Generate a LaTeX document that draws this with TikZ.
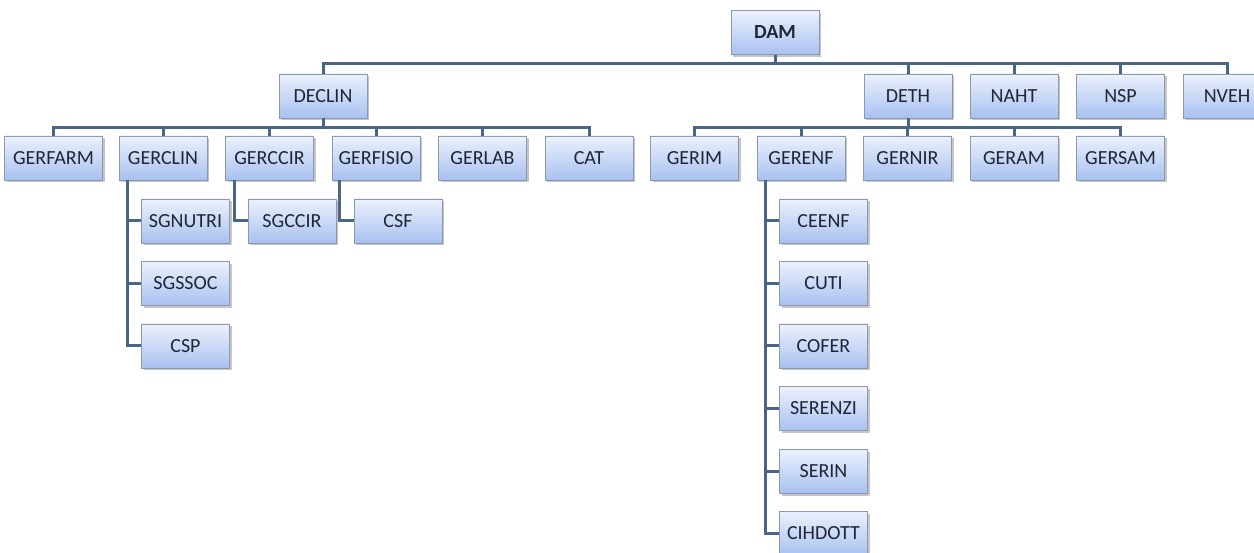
\documentclass[tikz,border=0pt]{standalone}
\usepackage{fontspec}
\setmainfont{Carlito}
\usetikzlibrary{shadows}
\definecolor{cajaarriba}{RGB}{236,241,252}
\definecolor{cajaabajo}{RGB}{168,193,241}
\definecolor{borde}{RGB}{140,152,172}
\definecolor{linea}{RGB}{74,101,134}
\definecolor{texto}{RGB}{30,38,56}
\tikzset{
  caja/.style={rectangle, draw=borde, line width=0.8pt, top color=cajaarriba, bottom color=cajaabajo,
    minimum width=88pt, minimum height=44pt, inner sep=0pt, text=texto,
    font=\fontsize{20}{23}\selectfont,
    drop shadow={shadow xshift=2pt, shadow yshift=-2.5pt, opacity=0.45}},
  enlace/.style={draw=linea, line width=3pt}
}
\begin{document}
\begin{tikzpicture}[x=1pt,y=-1pt]
        \useasboundingbox (0,0) rectangle (1254,553);
        % Direccion
        \node[caja] (dam) at (775,32.5) {\textbf{DAM}};
        % Primer nivel
        \node[caja] (declin) at (323,96) {DECLIN};
        \node[caja] (deth) at (908,96) {DETH};
        \node[caja] (naht) at (1014,96) {NAHT};
        \node[caja] (nsp) at (1120.5,96) {NSP};
        \node[caja] (nveh) at (1227,96) {NVEH};
        % Segundo nivel (DECLIN)
        \node[caja, minimum width=98pt] (gerfarm) at (53.5,158) {GERFARM};
        \node[caja] (gerclin) at (163,158) {GERCLIN};
        \node[caja] (gerccir) at (269.5,158) {GERCCIR};
        \node[caja] (gerfisio) at (376,158) {GERFISIO};
        \node[caja] (gerlab) at (482.5,158) {GERLAB};
        \node[caja] (cat) at (589,158) {CAT};
        % Segundo nivel (DETH)
        \node[caja] (gerim) at (694.5,158) {GERIM};
        \node[caja] (gerenf) at (801,158) {GERENF};
        \node[caja] (gernir) at (907.5,158) {GERNIR};
        \node[caja] (geram) at (1014,158) {GERAM};
        \node[caja] (gersam) at (1120.5,158) {GERSAM};
        % Tercer nivel
        \node[caja] (sgnutri) at (185.5,221) {SGNUTRI};
        \node[caja] (sgssoc) at (185.5,283.5) {SGSSOC};
        \node[caja] (csp) at (185.5,346) {CSP};
        \node[caja] (sgccir) at (292,221) {SGCCIR};
        \node[caja] (csf) at (398,221) {CSF};
        \node[caja] (ceenf) at (823.5,221) {CEENF};
        \node[caja] (cuti) at (823.5,283.5) {CUTI};
        \node[caja] (cofer) at (823.5,346) {COFER};
        \node[caja] (serenzi) at (823.5,408.5) {SERENZI};
        \node[caja] (serin) at (823.5,471) {SERIN};
        \node[caja] (cihdott) at (823.5,533.5) {CIHDOTT};
        % Lineas de DAM
        \foreach \h in {declin,deth,naht,nsp,nveh}
          \draw[enlace] (dam.south) -- ++(0,9) -| (\h.north);
        % Lineas de DECLIN y DETH
        \foreach \h in {gerfarm,gerclin,gerccir,gerfisio,gerlab,cat}
          \draw[enlace] (declin.south) -- ++(0,9) -| (\h.north);
        \foreach \h in {gerim,gerenf,gernir,geram,gersam}
          \draw[enlace] (deth.south) -- ++(0,9) -| (\h.north);
        % Lineas del tercer nivel
        \foreach \h in {sgnutri,sgssoc,csp}
          \draw[enlace] ([xshift=9pt]gerclin.south west) |- (\h.west);
        \draw[enlace] ([xshift=9pt]gerccir.south west) |- (sgccir.west);
        \draw[enlace] ([xshift=8pt]gerfisio.south west) |- (csf.west);
        \foreach \h in {ceenf,cuti,cofer,serenzi,serin,cihdott}
          \draw[enlace] ([xshift=9pt]gerenf.south west) |- (\h.west);
    \end{tikzpicture}
\end{document}
